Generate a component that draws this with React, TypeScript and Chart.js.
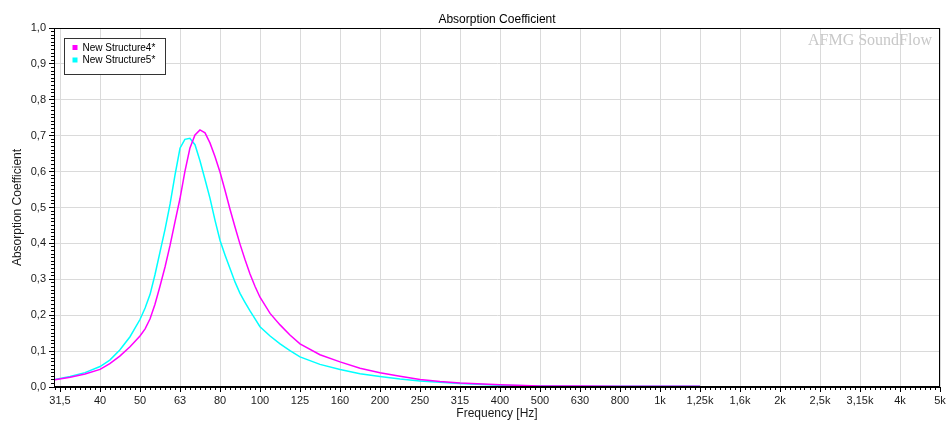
import React, { useEffect, useRef } from 'react';
import { Chart, registerables } from 'chart.js';

Chart.register(...registerables);

const CHART_TITLE = 'Absorption Coefficient';
const X_TITLE = 'Frequency [Hz]';
const Y_TITLE = 'Absorption Coefficient';
const WATERMARK = 'AFMG SoundFlow';

// Third-octave band labels shown on the x axis (one per band)
const BAND_LABELS = ['31,5', '40', '50', '63', '80', '100', '125', '160', '200', '250', '315', '400', '500', '630', '800', '1k', '1,25k', '1,6k', '2k', '2,5k', '3,15k', '4k', '5k'];

const SERIES_NAMES = ['New Structure4*', 'New Structure5*'];
const SERIES_COLORS = ['#ff00ff', '#00ffff'];

// Frequencies (Hz) at which the curves were read
const FREQ_HZ = [
  30.6, 33.4, 36.4, 39.7, 42.0, 44.5, 47.2, 50.0, 51.5, 53.0,
  54.5, 56.1, 57.8, 59.5, 61.2, 63.0, 64.8, 66.7, 68.7, 70.7,
  72.8, 74.9, 77.1, 79.4, 81.7, 84.1, 86.6, 89.1, 91.7, 94.4,
  97.2, 100.0, 106.0, 112.3, 118.9, 126.0, 141.4, 158.8, 178.2, 200.0,
  224.5, 252, 282.9, 317.5, 400, 504, 635, 800, 1008, 1270,
];

const STRUCTURE4 = [
  0.020, 0.027, 0.036, 0.049, 0.065, 0.086, 0.112, 0.142, 0.162, 0.190,
  0.230, 0.280, 0.335, 0.395, 0.460, 0.525, 0.600, 0.665, 0.702, 0.716,
  0.708, 0.680, 0.642, 0.598, 0.548, 0.495, 0.445, 0.398, 0.355, 0.315,
  0.280, 0.250, 0.205, 0.173, 0.145, 0.120, 0.090, 0.070, 0.052, 0.040,
  0.030, 0.021, 0.015, 0.011, 0.006, 0.003, 0.003, 0.002, 0.002, 0.002,
];

const STRUCTURE5 = [
  0.021, 0.029, 0.040, 0.057, 0.075, 0.103, 0.140, 0.188, 0.220, 0.258,
  0.312, 0.375, 0.440, 0.510, 0.590, 0.665, 0.690, 0.693, 0.675, 0.630,
  0.578, 0.526, 0.465, 0.408, 0.368, 0.330, 0.292, 0.261, 0.236, 0.212,
  0.190, 0.168, 0.142, 0.120, 0.101, 0.084, 0.063, 0.049, 0.037, 0.029,
  0.022, 0.017, 0.013, 0.010, 0.005, 0.003, 0.002, 0.002, 0.002, 0.002,
];

const Y_MIN = 0;
const Y_MAX = 1;
const Y_STEP = 0.1;
const Y_MINOR_STEP = 0.01;
const X_MIN = -0.15;
const X_MINOR_PER_BAND = 8;

const FONT = '"Liberation Sans", Arial, sans-serif';

// position of a frequency on the band axis (0 = 31.5 Hz, 1 band = 1/3 octave)
const bandPos = (f: number) => 3 * Math.log2(f / 31.5);

const framePlugin = {
  id: 'frame',
  beforeDatasetsDraw(chart: any) {
    const { ctx, chartArea } = chart;
    ctx.save();
    ctx.font = '16px "Liberation Serif", "Times New Roman", serif';
    ctx.fillStyle = '#c8c8c8';
    ctx.textAlign = 'right';
    ctx.textBaseline = 'alphabetic';
    ctx.fillText(WATERMARK, chartArea.right - 8, chartArea.top + 17);
    ctx.restore();
  },
  afterDraw(chart: any) {
    const { ctx, chartArea } = chart;
    ctx.save();
    // plot frame
    ctx.strokeStyle = '#000';
    ctx.lineWidth = 1;
    ctx.strokeRect(
      Math.round(chartArea.left) + 0.5,
      Math.round(chartArea.top) + 0.5,
      Math.round(chartArea.right - chartArea.left) - 1,
      Math.round(chartArea.bottom - chartArea.top) - 1,
    );
    // legend
    ctx.font = '10px ' + FONT;
    const datasets = chart.data.datasets;
    const boxL = Math.round(chartArea.left) + 10.5;
    const boxT = Math.round(chartArea.top) + 10.5;
    const textX = boxL + 18;
    let maxW = 0;
    datasets.forEach((d: any) => { maxW = Math.max(maxW, ctx.measureText(d.label).width); });
    const rowH = 12.5;
    const boxW = Math.round(textX - boxL + maxW + 10);
    const boxH = Math.round(rowH * datasets.length + 11);
    ctx.fillStyle = '#fff';
    ctx.fillRect(boxL, boxT, boxW, boxH);
    ctx.strokeStyle = '#333';
    ctx.strokeRect(boxL, boxT, boxW, boxH);
    ctx.textBaseline = 'middle';
    ctx.textAlign = 'left';
    datasets.forEach((d: any, i: number) => {
      const cy = boxT + 9 + i * rowH;
      ctx.fillStyle = d.borderColor;
      ctx.fillRect(boxL + 8, cy - 2.5, 5, 5);
      ctx.fillStyle = '#000';
      ctx.fillText(d.label, textX, cy + 0.5);
    });
    ctx.restore();
  },
};

export default function App() {
  const ref = useRef<HTMLCanvasElement>(null);

  useEffect(() => {
    document.body.style.margin = '0';
    const canvas = ref.current;
    if (!canvas) return;
    const toPoints = (vals: number[]) => FREQ_HZ.map((f, i) => ({ x: bandPos(f), y: vals[i] }));
    const xMax = BAND_LABELS.length - 1;

    const chart = new Chart(canvas, {
      type: 'line',
      data: {
        datasets: [
          {
            label: SERIES_NAMES[0],
            data: toPoints(STRUCTURE4),
            borderColor: SERIES_COLORS[0],
            backgroundColor: SERIES_COLORS[0],
            borderWidth: 1.5,
            pointRadius: 0,
            tension: 0,
            fill: false,
          },
          {
            label: SERIES_NAMES[1],
            data: toPoints(STRUCTURE5),
            borderColor: SERIES_COLORS[1],
            backgroundColor: SERIES_COLORS[1],
            borderWidth: 1.5,
            pointRadius: 0,
            tension: 0,
            fill: false,
          },
        ],
      },
      options: {
        responsive: false,
        animation: false,
        devicePixelRatio: 1,
        layout: { padding: 0 },
        plugins: {
          legend: { display: false },
          tooltip: { enabled: false },
          title: {
            display: true,
            text: CHART_TITLE,
            fullSize: false,
            color: '#000',
            font: { family: FONT, size: 12, weight: 'normal' },
            padding: { top: 12, bottom: 1.6 },
          },
        },
        scales: {
          xMinor: {
            type: 'linear',
            position: 'bottom',
            weight: 0,
            min: X_MIN,
            max: xMax,
            afterBuildTicks: (s: any) => {
              const t: any[] = [];
              for (let k = -1; k <= xMax * X_MINOR_PER_BAND; k++) t.push({ value: k / X_MINOR_PER_BAND });
              s.ticks = t;
            },
            ticks: { display: false },
            grid: { drawOnChartArea: false, drawTicks: true, tickLength: 3, tickColor: '#000' },
            border: { display: false },
            afterFit: (s: any) => { s.height = 0; s.paddingRight = 0; s.paddingLeft = 0; },
          },
          x: {
            type: 'linear',
            position: 'bottom',
            weight: 1,
            min: X_MIN,
            max: xMax,
            afterBuildTicks: (s: any) => {
              s.ticks = BAND_LABELS.map((_, i) => ({ value: i }));
            },
            ticks: {
              autoSkip: false,
              maxRotation: 0,
              minRotation: 0,
              padding: 2,
              color: '#1a1a1a',
              font: { family: FONT, size: 11 },
              callback: (v: any) => BAND_LABELS[Math.round(Number(v))] ?? '',
            },
            grid: { color: '#dadada', lineWidth: 1, tickColor: '#000', tickLength: 5 },
            border: { display: true, color: '#000' },
            title: {
              display: true,
              text: X_TITLE,
              color: '#1a1a1a',
              font: { family: FONT, size: 12 },
              padding: { top: 0, bottom: 0 },
            },
            afterFit: (s: any) => { s.height = 34; s.paddingRight = 6; s.paddingLeft = 0; },
          },
          yMinor: {
            type: 'linear',
            position: 'left',
            weight: 0,
            min: Y_MIN,
            max: Y_MAX,
            afterBuildTicks: (s: any) => {
              const t: any[] = [];
              const n = Math.round((Y_MAX - Y_MIN) / Y_MINOR_STEP);
              for (let k = 0; k <= n; k++) t.push({ value: Y_MIN + k * Y_MINOR_STEP });
              s.ticks = t;
            },
            ticks: { display: false },
            grid: { drawOnChartArea: false, drawTicks: true, tickLength: 3, tickColor: '#000' },
            border: { display: false },
            afterFit: (s: any) => { s.width = 0; },
          },
          y: {
            type: 'linear',
            position: 'left',
            weight: 1,
            min: Y_MIN,
            max: Y_MAX,
            afterBuildTicks: (s: any) => {
              const t: any[] = [];
              const n = Math.round((Y_MAX - Y_MIN) / Y_STEP);
              for (let k = 0; k <= n; k++) t.push({ value: Y_MIN + k * Y_STEP });
              s.ticks = t;
            },
            ticks: {
              padding: 3,
              color: '#1a1a1a',
              font: { family: FONT, size: 11 },
              callback: (v: any) => Number(v).toFixed(1).replace('.', ','),
            },
            grid: { color: '#dadada', lineWidth: 1, tickColor: '#000', tickLength: 5 },
            border: { display: true, color: '#000' },
            title: {
              display: true,
              text: Y_TITLE,
              color: '#1a1a1a',
              font: { family: FONT, size: 12 },
              padding: { top: 10, bottom: 0 },
            },
            afterFit: (s: any) => { s.width = 54; },
          },
        },
      } as any,
      plugins: [framePlugin],
    });

    return () => chart.destroy();
  }, []);

  return <canvas ref={ref} width={946} height={421} style={{ display: 'block' }} />;
}
